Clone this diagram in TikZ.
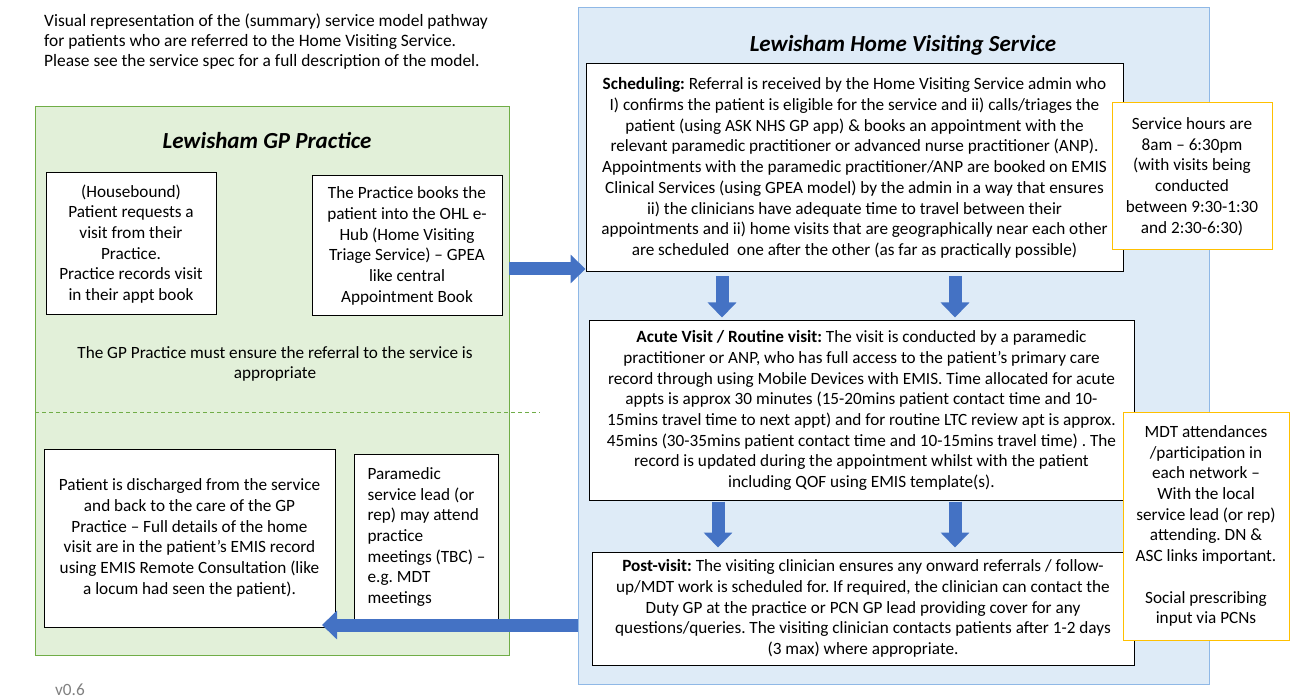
\documentclass[tikz,border=0pt]{standalone}
\usepackage{fontspec}
\setmainfont{Carlito}
\usetikzlibrary{arrows.meta}
\definecolor{gpgreen}{HTML}{E2F0D9}
\definecolor{gpedge}{HTML}{70AD47}
\definecolor{hvblue}{HTML}{DEEBF7}
\definecolor{hvedge}{HTML}{8FB8E6}
\definecolor{amber}{HTML}{FFC000}
\definecolor{flowblue}{HTML}{4472C4}
\begin{document}
\frenchspacing
\begin{tikzpicture}[x=1pt,y=-1pt,
  txt/.style={font=\fontsize{17.2}{20.7}\selectfont, inner sep=0pt},
  box/.style={txt, draw=black, fill=white, line width=1pt, align=center},
  aside/.style={box, draw=amber},
  heading/.style={font=\fontsize{23}{27}\selectfont\bfseries\itshape},
  flow/.style={draw=flowblue, line width=13pt, -{Triangle[length=15pt,width=28pt]}}]
\useasboundingbox (0,0) rectangle (1292,700);
\node[txt, align=left, anchor=north west, font=\fontsize{17.4}{20}\selectfont] (intro) at (44,14)
  {Visual representation of the (summary) service model pathway\\
   for patients who are referred to the Home Visiting Service.\\
   Please see the service spec for a full description of the model.};
\node[draw=gpedge, fill=gpgreen, minimum width=474, minimum height=549] (gp) at (272,380.5) {};
\node[heading] (gptitle) at (267,141) {Lewisham GP Practice};
\node[box, minimum width=170, minimum height=142] (req) at (131,244)
  {(Housebound)\\Patient requests a\\visit from their\\Practice.\\Practice records visit\\in their appt book};
\node[box, minimum width=190, minimum height=140] (ehub) at (407,246)
  {The Practice books the\\patient into the OHL e-\\Hub (Home Visiting\\Triage Service) – GPEA\\like central\\Appointment Book};
\node[txt, align=center] (ensure) at (275,364)
  {The GP Practice must ensure the referral to the service is\\appropriate};
\draw[gpedge, dashed, dash pattern=on 4pt off 3pt] (35,412) coordinate (split) -- (540,412);
\node[box, minimum width=291, minimum height=178] (disch) at (189.5,538)
  {Patient is discharged from the service\\and back to the care of the GP\\Practice – Full details of the home\\visit are in the patient’s EMIS record\\using EMIS Remote Consultation (like\\a locum had seen the patient).};
\node[box, align=left, inner xsep=11pt, minimum width=144, minimum height=166] (lead) at (426.5,537)
  {Paramedic\\service lead (or\\rep) may attend\\practice\\meetings (TBC) –\\e.g. MDT\\meetings};
\node[txt, text=black!50, anchor=west] (ver) at (55,690) {v0.6};
\node[draw=hvedge, fill=hvblue, minimum width=631, minimum height=677] (hvs) at (893.5,345.5) {};
\node[heading] (hvtitle) at (903,45) {Lewisham Home Visiting Service};
\node[box, minimum width=537, minimum height=208] (sched) at (854.5,168)
  {\textbf{Scheduling:} Referral is received by the Home Visiting Service admin who\\
   I) confirms the patient is eligible for the service and ii) calls/triages the\\
   patient (using ASK NHS GP app) \& books an appointment with the\\
   relevant paramedic practitioner or advanced nurse practitioner (ANP).\\
   Appointments with the paramedic practitioner/ANP are booked on EMIS\\
   Clinical Services (using GPEA model) by the admin in a way that ensures\\
   ii) the clinicians have adequate time to travel between their\\
   appointments and ii) home visits that are geographically near each other\\
   are scheduled\ \ one after the other (as far as practically possible)};
\node[box, minimum width=545, minimum height=179] (acute) at (861.5,410.5)
  {\textbf{Acute Visit / Routine visit:} The visit is conducted by a paramedic\\
   practitioner or ANP, who has full access to the patient’s primary care\\
   record through using Mobile Devices with EMIS. Time allocated for acute\\
   appts is approx 30 minutes (15-20mins patient contact time and 10-\\
   15mins travel time to next appt) and for routine LTC review apt is approx.\\
   45mins (30-35mins patient contact time and 10-15mins travel time) . The\\
   record is updated during the appointment whilst with the patient\\
   including QOF using EMIS template(s).};
\node[box, minimum width=542, minimum height=113] (post) at (863,608.5)
  {\textbf{Post-visit:} The visiting clinician ensures any onward referrals / follow-\\
   up/MDT work is scheduled for. If required, the clinician can contact the\\
   Duty GP at the practice or PCN GP lead providing cover for any\\
   questions/queries. The visiting clinician contacts patients after 1-2 days\\
   (3 max) where appropriate.};
\node[aside, minimum width=160, minimum height=147] (hours) at (1192,176.5)
  {Service hours are\\8am – 6:30pm\\(with visits being\\conducted\\between 9:30-1:30\\and 2:30-6:30)};
\node[aside, minimum width=166, minimum height=228] (mdt) at (1206,526)
  {MDT attendances\\/participation in\\each network –\\With the local\\service lead (or rep)\\attending. DN \&\\ASC links important.\\[20.7pt]Social prescribing\\input via PCNs};
\coordinate (handoff) at (509,269);
\draw[flow] (handoff) -- (handoff -| sched.west);
\foreach \x in {722,955} \draw[flow, shorten <=4pt, shorten >=3pt] (sched.south -| \x,0) -- (acute.north -| \x,0);
\foreach \x in {718,955} \draw[flow, shorten <=1pt, shorten >=4pt] (acute.south -| \x,0) -- (post.north -| \x,0);
\coordinate (back) at (578,625);
\coordinate (backtip) at (322,625);
\draw[flow] (back) -- (backtip);
\end{tikzpicture}
\end{document}
